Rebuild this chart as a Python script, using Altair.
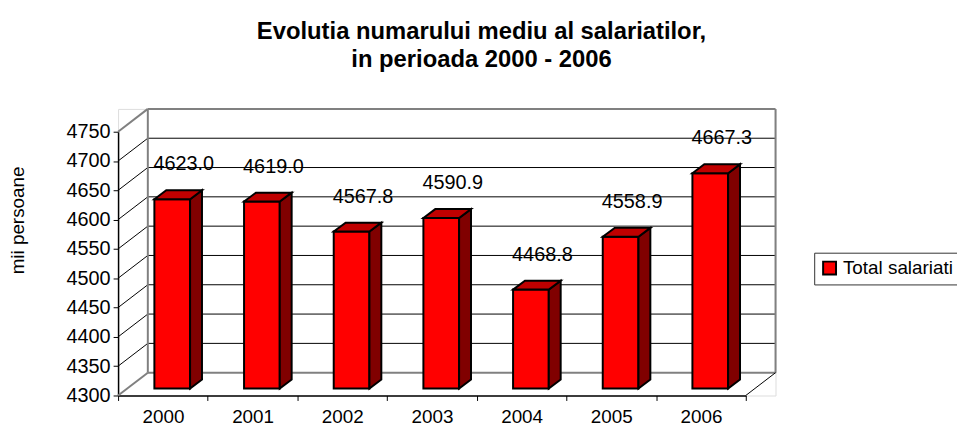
import altair as alt
import pandas as pd

# ---------------- data ----------------
years = ["2000", "2001", "2002", "2003", "2004", "2005", "2006"]
values = [4623.0, 4619.0, 4567.8, 4590.9, 4468.8, 4558.9, 4667.3]
value_labels = ["4623.0", "4619.0", "4567.8", "4590.9", "4468.8", "4558.9", "4667.3"]
tick_values = [4300, 4350, 4400, 4450, 4500, 4550, 4600, 4650, 4700, 4750]
series_name = "Total salariati"
title_lines = ["Evolutia numarului mediu al salariatilor,", "in perioada 2000 - 2006"]
y_title = "mii persoane"

# ---------------- geometry / style (pixels) ----------------
FONT = "Liberation Sans"
FRONT_W = 633          # width of front x axis
PLOT_W = 663           # plot incl. back wall
PLOT_H = 289
WALL_DX = 30           # back wall offset
WALL_DY = 23
Y_TOP = 23             # pixel of 4750 on front plane
YMIN, YMAX = 4300, 4750
BAR_W = 36
BAR_SHIFT = 9.4
BAR_DROP = 7
DEPTH_X = 12
DEPTH_Y = 9

px_x = FRONT_W / len(years)
px_y = (PLOT_H - Y_TOP) / (YMAX - YMIN)

yscale = alt.Scale(domain=[YMIN, YMAX], range=[PLOT_H, Y_TOP], nice=False, zero=False)
xq_scale = alt.Scale(domain=[-0.5, len(years) - 0.5], range=[0, FRONT_W], nice=False, zero=False)
y_axis = alt.Axis(
    values=tick_values, format="d", title=y_title, tickSize=5, labelPadding=3,
    labelFontSize=20, labelFont=FONT, labelColor="black",
    domainColor="black", domainWidth=1.5, tickColor="black", grid=False,
    titleFont=FONT, titleFontSize=19, titleFontWeight="normal", titleColor="black",
    titleAngle=270, titleX=-95, titleY=112, titleAlign="center", titleBaseline="alphabetic",
)

# ---------------- build face tables from the value lists ----------------
front_rows, side_rows, top_rows = [], [], []
ku = 1 / px_y
for i, (yr, v) in enumerate(zip(years, values)):
    xl = i + (BAR_SHIFT - BAR_W / 2) / px_x
    xr = i + (BAR_SHIFT + BAR_W / 2) / px_x
    dxu = DEPTH_X / px_x
    base = YMIN
    d = DEPTH_Y * ku
    for x in (xl, xr):
        front_rows.append({"bar": yr, "x": x, "y": v, "y2": base, "series": series_name})
    side_rows.append({"bar": yr, "x": xr, "y": v, "y2": base})
    side_rows.append({"bar": yr, "x": xr + dxu, "y": v + d, "y2": base + d})
    top_rows.append({"bar": yr, "x": xl, "y": v, "y2": v})
    top_rows.append({"bar": yr, "x": xl + dxu, "y": v + d, "y2": v})
    top_rows.append({"bar": yr, "x": xr, "y": v + d, "y2": v})
    top_rows.append({"bar": yr, "x": xr + dxu, "y": v + d, "y2": v + d})

front_df = pd.DataFrame(front_rows)
side_df = pd.DataFrame(side_rows)
top_df = pd.DataFrame(top_rows)
tick_df = pd.DataFrame({"t": tick_values})
bar_df = pd.DataFrame({"year": years, "value": values, "label": value_labels})
one = pd.DataFrame({"a": [0]})

edge = alt.FieldOneOfPredicate(field="t", oneOf=[YMIN, YMAX])

# ---------------- walls ----------------
grid_inner = alt.Chart(tick_df).transform_filter(~edge).mark_rule(
    yOffset=-WALL_DY, color="black", strokeWidth=1
).encode(
    y=alt.Y("t:Q", scale=yscale, axis=y_axis),
    x=alt.value(WALL_DX), x2=alt.value(PLOT_W),
)
diag_inner = alt.Chart(tick_df).transform_filter(~edge).mark_rule(
    y2Offset=-WALL_DY, color="black", strokeWidth=1
).encode(
    y=alt.Y("t:Q", scale=yscale, axis=y_axis), y2="t:Q",
    x=alt.value(0), x2=alt.value(WALL_DX),
)
grid_edge = alt.Chart(tick_df).transform_filter(edge).mark_rule(
    yOffset=-WALL_DY, color="#808080", strokeWidth=2
).encode(
    y=alt.Y("t:Q", scale=yscale, axis=y_axis),
    x=alt.value(WALL_DX), x2=alt.value(PLOT_W),
)
diag_edge = alt.Chart(tick_df).transform_filter(edge).mark_rule(
    y2Offset=-WALL_DY, color="#808080", strokeWidth=2
).encode(
    y=alt.Y("t:Q", scale=yscale, axis=y_axis), y2="t:Q",
    x=alt.value(0), x2=alt.value(WALL_DX),
)
wall_left = alt.Chart(one).mark_rule(
    yOffset=-WALL_DY, y2Offset=-WALL_DY, color="#808080", strokeWidth=2
).encode(
    y=alt.Y(datum=YMIN, scale=yscale, axis=y_axis), y2=alt.datum(YMAX),
    x=alt.value(WALL_DX),
)
wall_right = alt.Chart(one).mark_rule(
    yOffset=-WALL_DY, y2Offset=-WALL_DY, color="#808080", strokeWidth=2
).encode(
    y=alt.Y(datum=YMIN, scale=yscale, axis=y_axis), y2=alt.datum(YMAX),
    x=alt.value(PLOT_W),
)
floor_right = alt.Chart(one).mark_rule(
    y2Offset=-WALL_DY, color="black", strokeWidth=1
).encode(
    y=alt.Y(datum=YMIN, scale=yscale, axis=y_axis), y2=alt.datum(YMIN),
    x=alt.value(FRONT_W), x2=alt.value(PLOT_W),
)

# ---------------- bars (3D faces) ----------------
face_kw = dict(orient="vertical", stroke="black", strokeWidth=2, strokeJoin="miter",
               opacity=1, yOffset=-BAR_DROP, y2Offset=-BAR_DROP)
front = alt.Chart(front_df).mark_area(**face_kw).encode(
    x=alt.X("x:Q", scale=xq_scale, axis=None),
    y=alt.Y("y:Q", scale=yscale, axis=y_axis, stack=None),
    y2="y2:Q",
    detail="bar:N",
    color=alt.Color(
        "series:N",
        scale=alt.Scale(domain=[series_name], range=["#ff0000"]),
        legend=alt.Legend(
            title=None, orient="none", legendX=702, legendY=145,
            symbolType="square", symbolSize=169, symbolStrokeColor="black",
            symbolStrokeWidth=2, symbolFillColor="#ff0000", symbolOpacity=1,
            labelFont=FONT, labelFontSize=19, labelColor="black", labelOffset=4,
            padding=6, strokeColor="#333333", fillColor="white",
        ),
    ),
)
side = alt.Chart(side_df).mark_area(color="#800000", **face_kw).encode(
    x=alt.X("x:Q", scale=xq_scale, axis=None),
    y=alt.Y("y:Q", scale=yscale, axis=y_axis, stack=None),
    y2="y2:Q",
    detail="bar:N",
)
top = alt.Chart(top_df).mark_area(color="#c00000", **face_kw).encode(
    x=alt.X("x:Q", scale=xq_scale, axis=None),
    y=alt.Y("y:Q", scale=yscale, axis=y_axis, stack=None),
    y2="y2:Q",
    detail="bar:N",
)

# ---------------- value labels + x axis ----------------
labels = alt.Chart(bar_df).mark_text(
    font=FONT, fontSize=20, color="black", xOffset=21, dy=-42
).encode(
    x=alt.X(
        "year:O",
        scale=alt.Scale(paddingInner=0, paddingOuter=0, range=[0, FRONT_W]),
        axis=alt.Axis(
            title=None, labelAngle=0, tickBand="extent", tickSize=5,
            labelFont=FONT, labelFontSize=19, labelColor="black", labelPadding=7,
            domainColor="black", domainWidth=1.5, tickColor="black",
        ),
    ),
    y=alt.Y("value:Q", scale=yscale, axis=y_axis),
    text="label:N",
)

chart = alt.layer(
    grid_inner, diag_inner, grid_edge, diag_edge, wall_left, wall_right, floor_right,
    front, side, top, labels,
).resolve_scale(x="independent").properties(
    width=PLOT_W, height=PLOT_H,
    autosize=alt.AutoSizeParams(type="none"),
    padding={"left": 111, "top": 100, "right": 183, "bottom": 29},
    title=alt.TitleParams(
        text=title_lines, font=FONT, fontSize=24, fontWeight="bold", color="black",
        anchor="middle", frame="group", dx=35, offset=36, lineHeight=28,
    ),
).configure_view(strokeWidth=0).configure(background="white")

chart.save("out.html", embed_options={"renderer": "svg", "actions": False})
